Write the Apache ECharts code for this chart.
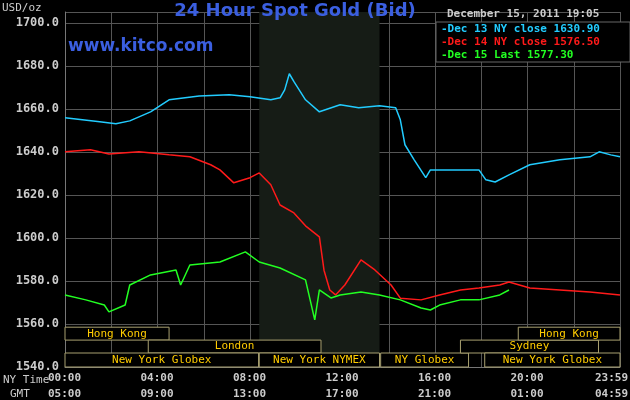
<!DOCTYPE html>
<html><head><meta charset="utf-8">
<script src="https://cdn.jsdelivr.net/npm/echarts@6/dist/echarts.min.js"></script>
<style>html,body{margin:0;background:#000}#c{width:630px;height:400px}</style>
</head><body><div id="c"></div>
<script>
const dec13Hours=[0,1.5,2.2,2.8,3.7,4.5,5.8,7.1,8.0,8.9,9.3,9.5,9.7,9.9,10.4,11.0,11.9,12.7,13.6,14.3,14.5,14.7,15.1,15.6,15.8,16.2,17.9,18.2,18.6,19.2,20.1,21.4,22.7,23.1,23.6,24.0];
const dec13Vals=[1655.8,1654.0,1653.1,1654.4,1658.6,1664.2,1666.0,1666.5,1665.6,1664.2,1665.1,1668.8,1676.3,1672.6,1664.2,1658.6,1661.9,1660.5,1661.4,1660.5,1654.9,1643.3,1636.3,1628.0,1631.6,1631.6,1631.6,1627.0,1626.0,1629.3,1634.0,1636.3,1637.7,1640.0,1638.6,1637.7];
const dec14Hours=[0,1.1,1.9,3.2,4.5,5.4,6.3,6.7,7.3,8.0,8.4,8.9,9.3,9.9,10.4,11.0,11.2,11.45,11.7,12.1,12.8,13.4,14.1,14.5,15.4,16.2,17.1,17.9,18.8,19.2,20.1,21.4,22.7,24.0];
const dec14Vals=[1640.0,1641.0,1639.0,1640.0,1638.6,1637.7,1634.0,1631.6,1625.6,1628.0,1630.2,1624.7,1615.3,1611.6,1605.6,1600.5,1585.0,1575.8,1573.5,1578.1,1589.8,1585.1,1578.1,1572.0,1571.2,1573.5,1575.8,1576.7,1578.1,1579.5,1576.7,1575.8,1574.9,1573.5];
const dec15Hours=[0,0.9,1.7,1.9,2.6,2.8,3.7,4.8,5.0,5.4,6.7,7.8,8.4,9.3,10.4,10.6,10.8,11.0,11.5,11.9,12.8,13.6,14.5,15.4,15.8,16.2,17.1,17.9,18.8,19.2];
const dec15Vals=[1573.5,1571.2,1568.8,1565.6,1568.8,1578.1,1582.8,1585.1,1578.1,1587.4,1588.8,1593.5,1588.8,1586.0,1580.5,1571.2,1561.9,1575.8,1572.1,1573.5,1574.9,1573.5,1571.2,1567.4,1566.5,1568.8,1571.2,1571.2,1573.5,1575.8];
const sessionNames=['Hong Kong','London','New York Globex','New York NYMEX','NY Globex','Sydney','Hong Kong','New York Globex'];
const sessionStart=[0,3.6,0,8.4,13.65,17.1,19.6,18.15];
const sessionEnd=[4.5,11.07,8.37,13.6,17.45,23.07,24,24];
const sessionRow=[0,1,2,2,2,1,0,2];
const nyTicks=['00:00','04:00','08:00','12:00','16:00','20:00','23:59'];
const gmtTicks=['05:00','09:00','13:00','17:00','21:00','01:00','04:59'];
const legendTexts=['Dec 13 NY close 1630.90','Dec 14 NY close 1576.50','Dec 15 Last 1577.30'];
const colors=['#22ccff','#ff1a1a','#22ff22'];
const rowBounds=[[1558.5,1552.5],[1552.5,1546.5],[1546.5,1540]];
const zip=(a,b)=>a.map((v,i)=>[v,b[i]]);
const F='DejaVu Sans Mono';
const chart=echarts.init(document.getElementById('c'));
const T=(x,y,text,fill,font,align)=>({type:'text',x:x,y:y,z:20,style:{text:text,fill:fill,font:font,align:align||'left',verticalAlign:'top'}});
const gfx=[
 {type:'rect',z:19,shape:{x:436,y:22,width:194,height:40},style:{fill:'#000',stroke:'#666'}},
 T(295,2,'24 Hour Spot Gold (Bid)','#3b5fe0','bold 18px "DejaVu Sans"','center'),
 T(68,38,'www.kitco.com','#3b5fe0','bold 17px "DejaVu Sans"'),
 T(2,3,'USD/oz','#ccc','11px '+F),
 T(447,9,'December 15, 2011 19:05','#ccc','bold 11px '+F),
 T(3,375,'NY Time','#ccc','11px '+F),
 T(10,389,'GMT','#ccc','11px '+F)
];
legendTexts.forEach((t,i)=>gfx.push(T(441,24+i*13,'-'+t,colors[i],'bold 11px '+F)));
nyTicks.forEach((t,i)=>{
  const x=65+i*92.5-(i===6?25:17);
  gfx.push(T(x,373,t,'#ccc','bold 11px '+F));
  gfx.push(T(x,389,gmtTicks[i],'#ccc','bold 11px '+F));
});
chart.setOption({
 backgroundColor:'#000',animation:false,
 grid:{left:65,right:10,top:12,bottom:33},
 xAxis:{type:'value',min:0,max:24,interval:2,axisLabel:{show:false},axisTick:{show:false},
   axisLine:{show:true,lineStyle:{color:'#777'}},splitLine:{lineStyle:{color:'#555'}}},
 yAxis:{type:'value',min:1540,max:1705,interval:20,axisTick:{show:false},
   axisLine:{show:true,lineStyle:{color:'#777'}},splitLine:{lineStyle:{color:'#555'}},
   axisLabel:{color:'#ccc',fontFamily:F,fontWeight:'bold',fontSize:12,margin:6,formatter:v=>v.toFixed(1)}},
 graphic:gfx,
 series:[
  {type:'line',data:zip(dec13Hours,dec13Vals),showSymbol:false,lineStyle:{color:colors[0],width:1.5},z:3,
   markArea:{silent:true,itemStyle:{color:'#161c16'},data:[[{xAxis:8.4},{xAxis:13.6}]]}},
  {type:'line',data:zip(dec14Hours,dec14Vals),showSymbol:false,lineStyle:{color:colors[1],width:1.5},z:3},
  {type:'line',data:zip(dec15Hours,dec15Vals),showSymbol:false,lineStyle:{color:colors[2],width:1.5},z:3},
  {type:'custom',z:5,data:sessionNames.map((n,i)=>[sessionStart[i],sessionEnd[i],sessionRow[i],n]),
   renderItem:(p,api)=>{
     const r=rowBounds[api.value(2)];
     const a=api.coord([api.value(0),r[0]]),b=api.coord([api.value(1),r[1]]);
     const nm=sessionNames[p.dataIndex];
     return {type:'group',children:[
       {type:'rect',shape:{x:a[0],y:a[1],width:b[0]-a[0],height:b[1]-a[1]},style:{fill:'#000',stroke:'#a8a070',lineWidth:1}},
       {type:'text',x:(a[0]+b[0])/2,y:(a[1]+b[1])/2,style:{text:nm,fill:'#ffcc00',font:'11px '+F,align:'center',verticalAlign:'middle'}}
     ]};
   }}
 ]
});
</script></body></html>
